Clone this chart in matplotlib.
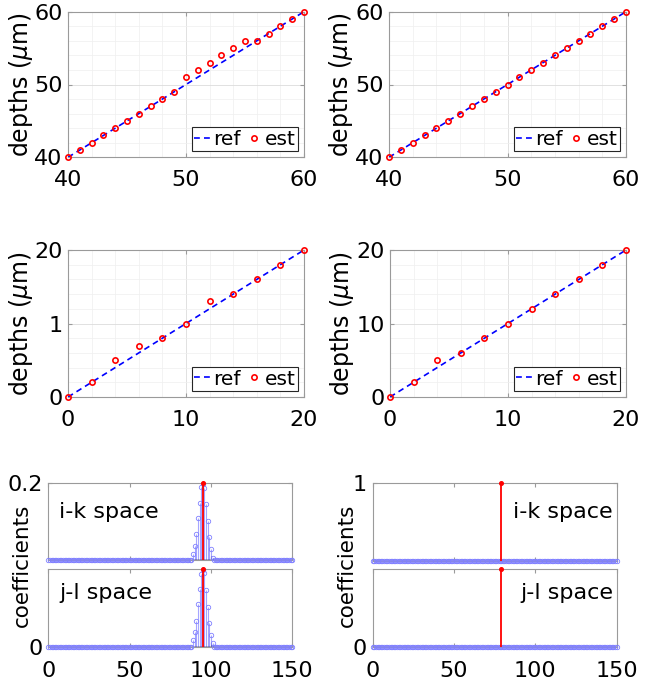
import numpy as np
import matplotlib
matplotlib.use('Agg')
import matplotlib.pyplot as plt
from matplotlib.ticker import MultipleLocator

plt.rcParams['font.family'] = ['DejaVu Sans']
plt.rcParams['mathtext.fontset'] = 'dejavusans'

# ---------------- data ----------------
# top row: depths 40..60
depth_x_top = [40, 41, 42, 43, 44, 45, 46, 47, 48, 49, 50, 51, 52, 53, 54, 55, 56, 57, 58, 59, 60]
est_top_left = [40, 41, 42, 43, 44, 45, 46, 47, 48, 49, 51, 52, 53, 54, 55, 56, 56, 57, 58, 59, 60]
est_top_right = [40, 41, 42, 43, 44, 45, 46, 47, 48, 49, 50, 51, 52, 53, 54, 55, 56, 57, 58, 59, 60]
top_ticks = [40, 50, 60]
top_ticklabels = ['40', '50', '60']

# middle row: depths 0..20
depth_x_mid = [0, 2, 4, 6, 8, 10, 12, 14, 16, 18, 20]
est_mid_left = [0, 2, 5, 7, 8, 10, 13, 14, 16, 18, 20]
est_mid_right = [0, 2, 5, 6, 8, 10, 12, 14, 16, 18, 20]
mid_ticks = [0, 10, 20]
mid_yticklabels_left = ['0', '1', '20']
mid_yticklabels_right = ['0', '10', '20']

# bottom row: coefficients
coef_n = 151                      # indices 0..150
bump_idx = [89, 90, 91, 92, 93, 94, 95, 96, 97, 98, 99, 100, 101]
ik_left_bump = [0.016, 0.037, 0.067, 0.108, 0.147, 0.189, 0.198, 0.186, 0.146, 0.102, 0.060, 0.029, 0.004]
jl_left_bump = [0.018, 0.039, 0.067, 0.109, 0.149, 0.187, 0.198, 0.189, 0.146, 0.103, 0.061, 0.031, 0.009]
true_left_idx, true_left_val = 95, 0.2
true_right_idx, true_right_val = 79, 1.0
coef_xticks = [0, 50, 100, 150]

# ---------------- style ----------------
SPINE = '#9a9a9a'
FS = 16

fig = plt.figure(figsize=(6.52, 6.86), dpi=100)
W, H = 652.0, 686.0


def add_ax(l, t, r, b):
    return fig.add_axes([l / W, 1 - b / H, (r - l) / W, (b - t) / H])


def style_box(ax):
    for s in ax.spines.values():
        s.set_color(SPINE)
        s.set_linewidth(0.8)
    ax.tick_params(which='both', direction='in', top=True, right=True,
                   color=SPINE, labelsize=FS, labelcolor='black')
    ax.tick_params(which='major', length=3)
    ax.tick_params(which='minor', length=0)


def depth_panel(ax, x, est, ticks, yticklabels, label_x):
    ax.plot(x, x, '--', color='#0000ff', lw=1.2, dashes=(3.5, 2.5), label='ref', zorder=3)
    ax.plot(x, est, 'o', mfc='none', mec='#ff0000', ms=3.8, mew=1.2, label='est',
            zorder=4, clip_on=False)
    ax.set_xlim(ticks[0], ticks[-1])
    ax.set_ylim(ticks[0], ticks[-1])
    ax.set_xticks(ticks)
    ax.set_yticks(ticks)
    ax.set_xticklabels([str(t) for t in ticks])
    ax.set_yticklabels(yticklabels)
    ax.xaxis.set_minor_locator(MultipleLocator(2))
    ax.yaxis.set_minor_locator(MultipleLocator(2))
    ax.grid(which='major', color='#dcdcdc', lw=0.6)
    ax.grid(which='minor', color='#efefef', lw=0.5)
    ax.set_axisbelow(True)
    style_box(ax)
    ax.tick_params(axis='x', pad=9)
    ax.tick_params(axis='y', pad=4)
    ax.set_ylabel('depths ($\\mu$m)', fontsize=17)
    ax.yaxis.set_label_coords(label_x, 0.5)
    leg = ax.legend(ncol=2, loc='lower right', fontsize=14.5, frameon=True, fancybox=False,
                    edgecolor='#262626', framealpha=1, borderpad=0.12, handlelength=0.85,
                    handletextpad=0.12, columnspacing=0.2, borderaxespad=0.3)
    leg.get_frame().set_linewidth(0.8)


ax1 = add_ax(68, 11.7, 304, 157.3)
depth_panel(ax1, depth_x_top, est_top_left, top_ticks, top_ticklabels, -0.14)
ax2 = add_ax(389, 11.7, 626, 157.3)
depth_panel(ax2, depth_x_top, est_top_right, top_ticks, top_ticklabels, -0.144)
ax3 = add_ax(68, 250, 304, 397)
depth_panel(ax3, depth_x_mid, est_mid_left, mid_ticks, mid_yticklabels_left, -0.14)
ax4 = add_ax(390, 250, 626, 397)
depth_panel(ax4, depth_x_mid, est_mid_right, mid_ticks, mid_yticklabels_right, -0.144)


def coef_panel(ax, bump, true_idx, true_val, ymax, ytick, show_x, text, text_x, text_y, ha):
    xs = np.arange(coef_n)
    vals = np.zeros(coef_n)
    if bump is not None:
        vals[bump_idx] = bump
    mk, st, bl = ax.stem(xs, vals, basefmt=' ')
    st.set_color('#0000ff')
    st.set_alpha(0.35)
    st.set_linewidth(0.8)
    mk.set_marker('o')
    mk.set_markerfacecolor('none')
    mk.set_markeredgecolor('#8080ff')
    mk.set_markersize(3.2)
    mk.set_markeredgewidth(0.6)
    mk.set_zorder(3)
    ax.axhline(0, color='#b4b4b4', lw=2, zorder=1)
    rmk, rst, rbl = ax.stem([true_idx], [true_val], basefmt=' ')
    rst.set_color('#ff0000')
    rst.set_linewidth(1.3)
    rst.set_zorder(4)
    rmk.set_color('#ff0000')
    rmk.set_marker('o')
    rmk.set_markersize(2.6)
    rmk.set_zorder(5)
    for a in (mk, rmk):
        a.set_clip_on(False)
    ax.set_xlim(0, 150)
    ax.set_ylim(0, ymax)
    ax.set_xticks(coef_xticks)
    ax.set_yticks([ytick])
    ax.set_yticklabels([('%g' % ytick)])
    style_box(ax)
    ax.tick_params(axis='x', pad=10)
    ax.tick_params(axis='y', pad=4)
    if not show_x:
        ax.set_xticklabels([])
    ax.text(text_x, text_y, text, transform=ax.transAxes, fontsize=16,
            ha=ha, va='center')


# bottom-left
b1 = add_ax(48.3, 483, 292.3, 560)
coef_panel(b1, ik_left_bump, true_left_idx, true_left_val, 0.2, 0.2, False,
           'i-k space', 0.044, 0.62, 'left')
b2 = add_ax(48.3, 569, 292.3, 647)
coef_panel(b2, jl_left_bump, true_left_idx, true_left_val, 0.2, 0, True,
           'j-l space', 0.044, 0.69, 'left')
# bottom-right
b3 = add_ax(372.7, 483, 616.7, 561)
coef_panel(b3, None, true_right_idx, true_right_val, 1.0, 1, False,
           'i-k space', 0.985, 0.63, 'right')
b4 = add_ax(372.7, 569, 616.7, 647)
coef_panel(b4, None, true_right_idx, true_right_val, 1.0, 0, True,
           'j-l space', 0.985, 0.69, 'right')

fig.text(22 / W, 1 - 565 / H, 'coefficients', rotation=90, fontsize=15.5,
         ha='center', va='center')
fig.text(347 / W, 1 - 565 / H, 'coefficients', rotation=90, fontsize=15.5,
         ha='center', va='center')

fig.savefig('out.png', dpi=100)
